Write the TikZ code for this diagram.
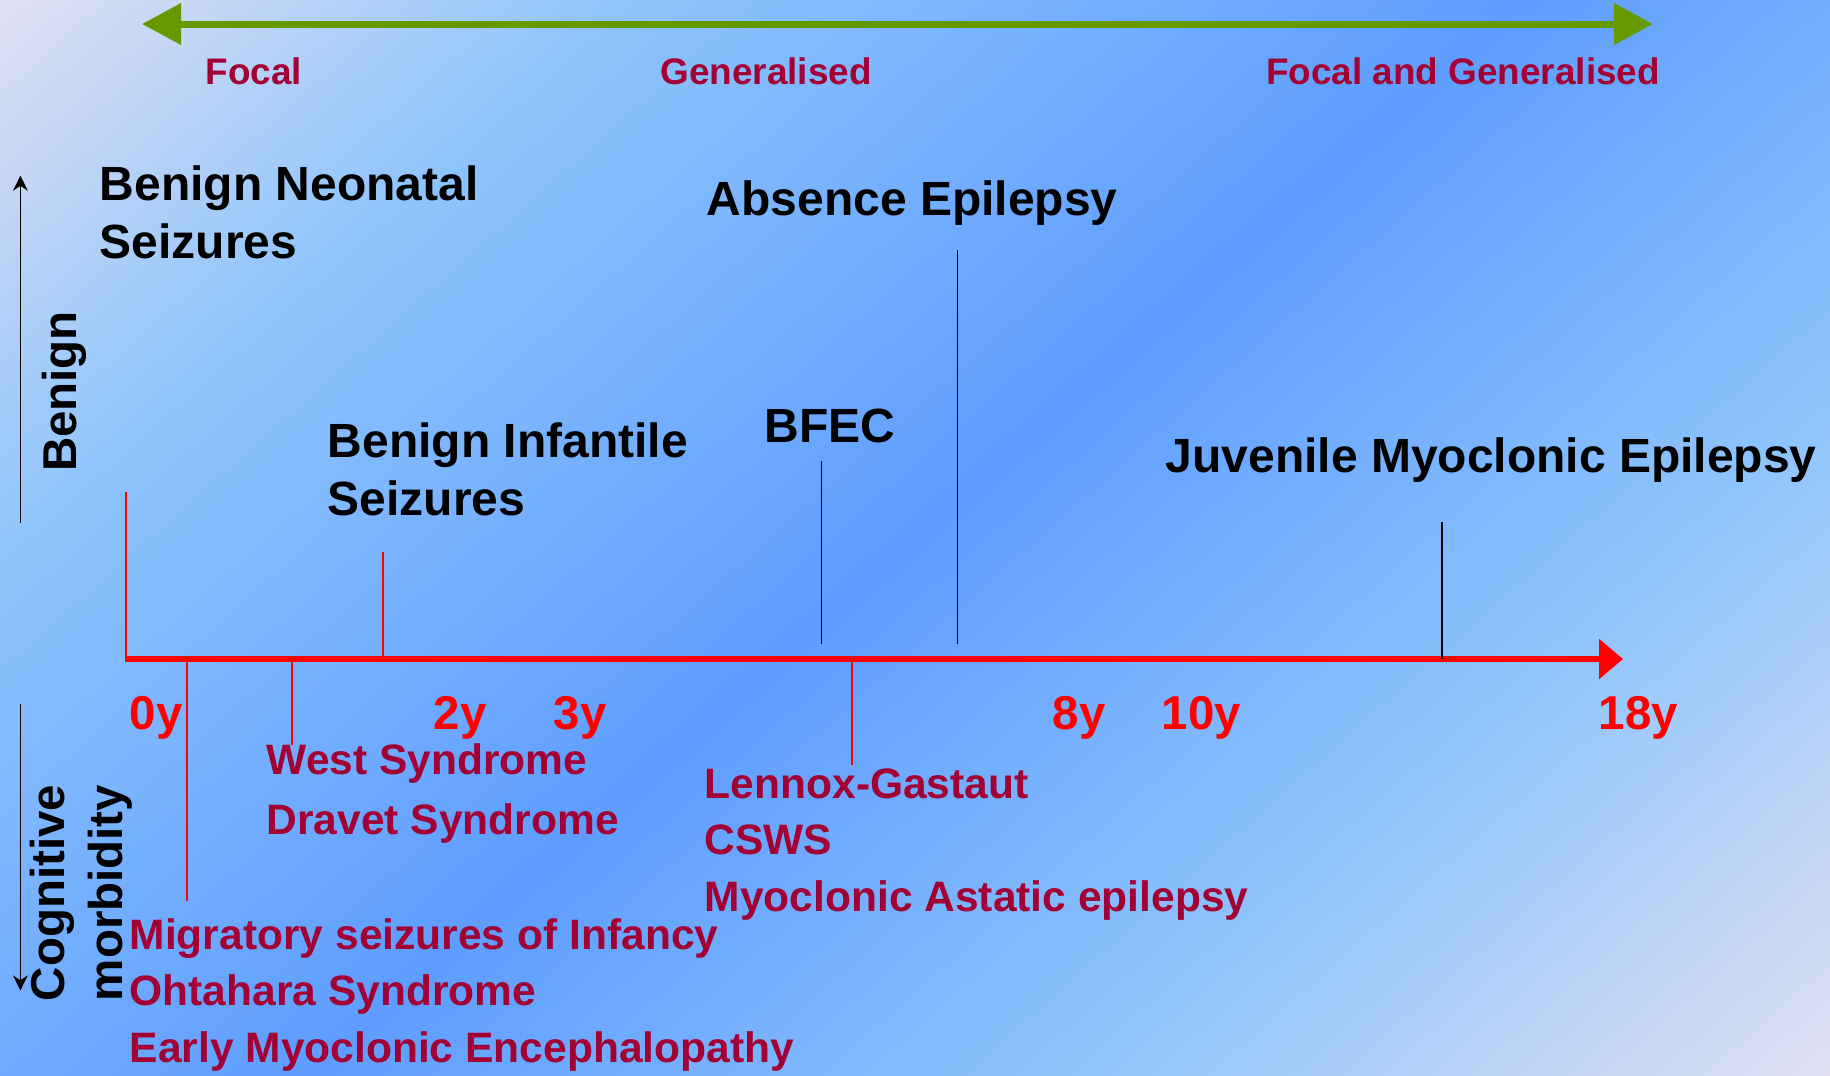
\documentclass[tikz,border=0pt]{standalone}
\usepackage{fontspec}
\setmainfont{Liberation Sans}
\usepackage{xcolor}
\usepackage{tikz}
\usetikzlibrary{arrows.meta, positioning, calc}
\definecolor{lavender}{RGB}{224,224,242}
\definecolor{skyblue}{RGB}{142,196,252}
\definecolor{deepblue}{RGB}{94,157,255}
\definecolor{spectrumgreen}{RGB}{102,153,0}
\definecolor{crimson}{RGB}{163,0,51}
\definecolor{agered}{RGB}{255,0,0}
\pgfdeclarehorizontalshading{backdrop}{100bp}{color(0bp)=(lavender); color(26bp)=(lavender); color(36bp)=(skyblue); color(50bp)=(deepblue); color(62bp)=(skyblue); color(74bp)=(lavender); color(100bp)=(lavender)}

\begin{document}
\begin{tikzpicture}[
        x=0.01cm, y=-0.01cm,
        syndrome/.style={font=\fontsize{13.65}{16.3}\selectfont\bfseries, text=black, inner sep=0pt, anchor=base west, align=left},
        severe/.style={font=\fontsize{12.1}{16}\selectfont\bfseries, text=crimson, inner sep=0pt, anchor=base west, align=left},
        agelbl/.style={font=\fontsize{13.5}{16}\selectfont\bfseries, text=agered, inner sep=0pt, anchor=base west},
        typelbl/.style={font=\fontsize{10.5}{12}\selectfont\bfseries, text=crimson, inner sep=0pt, anchor=base},
        sidelbl/.style={font=\fontsize{13.5}{16.3}\selectfont\bfseries, inner sep=0pt, anchor=base, rotate=90, align=center},
        spectrum/.style={{Triangle[length=0.39cm, width=0.40cm]}-{Triangle[length=0.39cm, width=0.40cm]}, spectrumgreen, line width=0.07cm},
        timeline/.style={-{Triangle[length=0.24cm, width=0.39cm]}, agered, line width=0.068cm},
        benignline/.style={black, line width=0.45pt},
        severeline/.style={agered, line width=0.5pt},
        sidearrow/.style={-{Stealth[length=4.3pt, width=4.2pt]}, black, line width=0.45pt}
    ]

    % Background
    \useasboundingbox (0,0) rectangle (1830,1075);
    \begin{scope}
        \clip (0,0) rectangle (1830,1075);
        \shade[shading=backdrop, transform canvas={rotate around={-48.5:(915,537.5)}}] (-135,-512.5) rectangle (1965,1587.5);
    \end{scope}

    % Seizure type spectrum
    \coordinate (specL) at (142,24);
    \coordinate (specR) at (1653,24);
    \draw[spectrum] (specL) -- (specR);
    \node[typelbl] (focal) at (254,84) {Focal};
    \node[typelbl] (general) at (766,84) {Generalised};
    \node[typelbl] (both) at (1463,84) {Focal and Generalised};

    % Side axis
    \coordinate (benS) at (20.4,523);
    \coordinate (benN) at (20.4,175.6);
    \coordinate (cogN) at (20.4,704);
    \coordinate (cogS) at (20.4,990.5);
    \draw[sidearrow] (benS) -- (benN);
    \draw[sidearrow] (cogN) -- (cogS);
    \node[sidelbl] (benign) at (77,391.5) {Benign};
    \node[sidelbl] (cognitive) at (122,893) {Cognitive\\morbidity};

    % Age axis
    \coordinate (axL) at (125,659);
    \coordinate (axR) at (1623,659);
    \draw[timeline] (axL) -- (axR);
    \node[agelbl] (y0) at (129,729) {0y};
    \node[agelbl] (y2) at (433,729) {2y};
    \node[agelbl] (y3) at (553,729) {3y};
    \node[agelbl] (y8) at (1052,729) {8y};
    \node[agelbl] (y10) at (1161,729) {10y};
    \node[agelbl] (y18) at (1598,729) {18y};

    % Benign syndromes
    \node[syndrome] (neonatal) at (99,258) {Benign Neonatal\\Seizures};
    \node[syndrome] (absence) at (706,215) {Absence Epilepsy};
    \node[syndrome] (infantile) at (327,515) {Benign Infantile\\Seizures};
    \node[syndrome] (bfec) at (764,442) {BFEC};
    \node[syndrome] (jme) at (1165,472) {Juvenile Myoclonic Epilepsy};

    \coordinate (zeroT) at (126,492);
    \coordinate (infT) at (382.7,552);
    \coordinate (bfecT) at (821.5,461);
    \coordinate (bfecB) at (821.5,644);
    \coordinate (absT) at (957.6,250);
    \coordinate (absB) at (957.6,644);
    \coordinate (jmeT) at (1442,522);
    \draw[severeline] (zeroT) -- (zeroT |- axL);
    \draw[severeline] (infT) -- (infT |- axL);
    \draw[benignline] (bfecT) -- (bfecB);
    \draw[benignline] (absT) -- (absB);
    \draw[benignline] (jmeT) -- (jmeT |- axL);

    % Severe syndromes
    \node[severe] (west) at (266,774) {West Syndrome};
    \node[severe] (dravet) at (266,834) {Dravet Syndrome};
    \node[severe] (lennox) at (704,911) {Lennox-Gastaut\\CSWS\\Myoclonic Astatic epilepsy};
    \node[severe] (migratory) at (129,1062) {Migratory seizures of Infancy\\Ohtahara Syndrome\\Early Myoclonic Encephalopathy};

    \coordinate (migB) at (186.7,901);
    \coordinate (westB) at (291.7,745);
    \coordinate (lgB) at (851.8,765);
    \draw[severeline] (migB |- axL) -- (migB);
    \draw[severeline] (westB |- axL) -- (westB);
    \draw[severeline] (lgB |- axL) -- (lgB);

    \end{tikzpicture}
\end{document}
